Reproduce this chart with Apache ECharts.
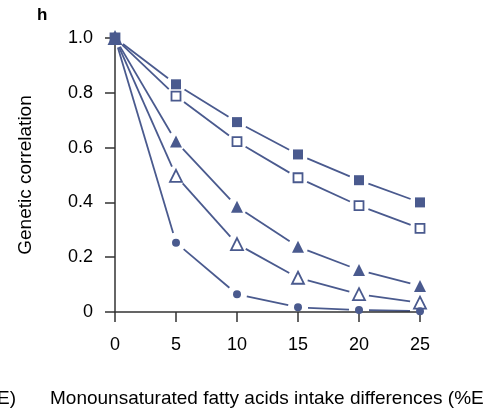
<!DOCTYPE html>
<html><head><meta charset="utf-8">
<script src="https://cdn.jsdelivr.net/npm/echarts@6/dist/echarts.min.js"></script>
<style>html,body{margin:0;padding:0;background:#fff}#c{width:486px;height:412px}</style>
</head><body><div id="c"></div>
<script>
var xValues = [0, 5, 10, 15, 20, 25];
var filledSquare = [1.0, 0.831, 0.693, 0.575, 0.481, 0.400];
var openSquare = [1.0, 0.788, 0.622, 0.490, 0.388, 0.305];
var filledTriangle = [1.0, 0.622, 0.384, 0.238, 0.153, 0.095];
var openTriangle = [1.0, 0.497, 0.248, 0.125, 0.065, 0.034];
var filledCircle = [1.0, 0.253, 0.065, 0.017, 0.007, 0.003];
var yTickLabels = ['0', '0.2', '0.4', '0.6', '0.8', '1.0'];

var C = '#4a5a8e';
var GAP = 10;
var defs = [
  {d: openSquare, sym: 'rect', size: 9, fill: '#fff'},
  {d: openTriangle, sym: 'triangle', size: 12, fill: '#fff'},
  {d: filledCircle, sym: 'circle', size: 8, fill: C},
  {d: filledSquare, sym: 'rect', size: 10, fill: C},
  {d: filledTriangle, sym: 'triangle', size: 12, fill: C}
];
function pts(arr){ return xValues.map(function(x,i){return [x, arr[i]];}); }
function segs(arr){
  var out = [];
  for (var i = 0; i < xValues.length - 1; i++) out.push([xValues[i], arr[i], xValues[i+1], arr[i+1]]);
  return out;
}
function renderSeg(params, api){
  var p1 = api.coord([api.value(0), api.value(1)]);
  var p2 = api.coord([api.value(2), api.value(3)]);
  var dx = p2[0]-p1[0], dy = p2[1]-p1[1];
  var L = Math.sqrt(dx*dx+dy*dy);
  if (L <= 2*GAP) return null;
  var ux = dx/L, uy = dy/L;
  return {type:'line', shape:{x1:p1[0]+ux*GAP, y1:p1[1]+uy*GAP, x2:p2[0]-ux*GAP, y2:p2[1]-uy*GAP},
    style:{stroke:C, lineWidth:1.8, fill:null}};
}
var series = [];
defs.forEach(function(s){
  series.push({type:'custom', data: segs(s.d), renderItem: renderSeg, z:1, silent:true, animation:false, clip:false,
    encode:{x:[0,2], y:[1,3]}});
});
defs.forEach(function(s){
  series.push({type:'scatter', data: pts(s.d), symbol: s.sym, symbolSize: s.size, z:4,
    itemStyle:{color: s.fill, opacity:1, borderColor: C, borderWidth: s.fill === '#fff' ? 1.8 : 0}, silent:true, animation:false});
});

var chart = echarts.init(document.getElementById('c'), null, {renderer:'canvas'});
var axisCol = '#333';
var fontF = '"Liberation Sans", Arial, Helvetica, sans-serif';
chart.setOption({
  animation:false,
  grid:{left:115, right:66, top:38, bottom:100},
  xAxis:{type:'value', min:0, max:25, interval:5, z:3,
    axisLine:{show:true, onZero:false, lineStyle:{color:axisCol, width:1.5}},
    axisTick:{show:true, length:10, inside:false, lineStyle:{color:axisCol, width:1.5}},
    axisLabel:{color:'#000', fontSize:18, fontFamily:fontF, margin:24},
    splitLine:{show:false}},
  yAxis:{type:'value', min:0, max:1, interval:0.2, z:3,
    axisLine:{show:true, lineStyle:{color:axisCol, width:1.5}},
    axisTick:{show:true, length:10, lineStyle:{color:axisCol, width:1.5}},
    axisLabel:{color:'#000', fontSize:18, fontFamily:fontF, margin:22,
      formatter:function(v){ return yTickLabels[Math.round(v*5)]; }},
    splitLine:{show:false}},
  graphic:[
    {type:'text', left:37, top:7, style:{text:'h', font:'bold 17px ' + fontF, fill:'#000'}},
    {type:'text', x:26, y:175, rotation:Math.PI/2, style:{text:'Genetic correlation', font:'19px ' + fontF, fill:'#000', align:'center', verticalAlign:'middle'}},
    {type:'text', x:50, y:399, style:{text:'Monounsaturated fatty acids intake differences (%E', font:'19px ' + fontF, fill:'#000', verticalAlign:'middle'}},
    {type:'text', x:-3, y:399, style:{text:'E)', font:'19px ' + fontF, fill:'#000', verticalAlign:'middle'}}
  ],
  series: series
});
</script></body></html>
